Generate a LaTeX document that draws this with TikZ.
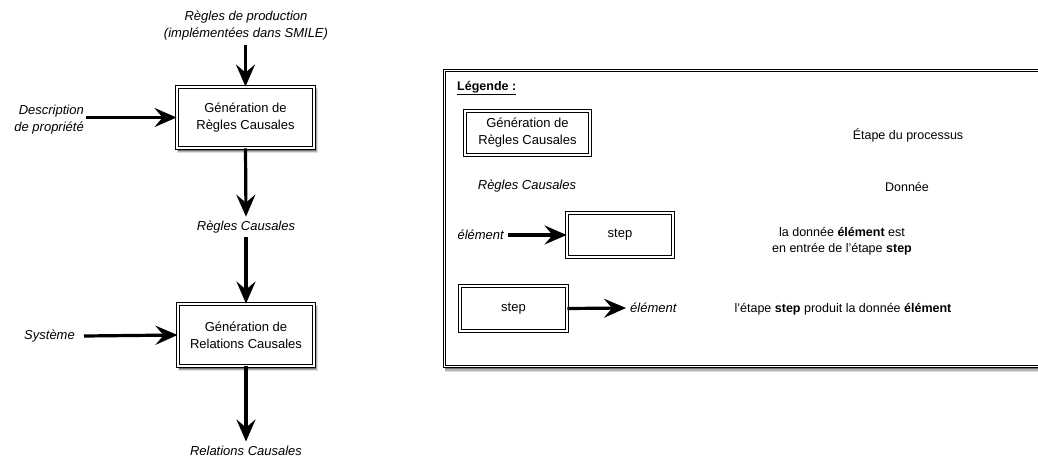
\documentclass[tikz,border=0pt]{standalone}
\usepackage{fontspec}
\setmainfont{Liberation Sans}
\usetikzlibrary{arrows.meta,backgrounds}
\newcommand{\diagsize}{\fontsize{13}{17}\selectfont}
\newcommand{\legsize}{\fontsize{12.5}{16}\selectfont}
\newcommand{\boxshadow}[1]{%
  \begin{scope}[on background layer]
    \fill[black!12] ([shift={(0.5pt,-1.5pt)}]#1.north west) rectangle ([shift={(4pt,-5pt)}]#1.south east);
    \fill[black!30] ([shift={(1pt,-2pt)}]#1.north west) rectangle ([shift={(3pt,-3.8pt)}]#1.south east);
    \fill[black!55] ([shift={(1pt,-2pt)}]#1.north west) rectangle ([shift={(1.8pt,-2.5pt)}]#1.south east);
  \end{scope}}
\tikzset{
  stepbox/.style={draw=black, line width=0.9pt, double=white, double distance=1.6pt, fill=white, align=center, inner sep=0pt},
  datum/.style={font=\diagsize\itshape, align=center, inner sep=4pt},
  plain/.style={font=\legsize, align=center, inner sep=3pt},
  flow/.style={line width=3.2pt, -{Stealth[length=22pt,width=19pt,inset=8pt]}},
}
\begin{document}
\begin{tikzpicture}[x=1pt,y=-1pt,font=\diagsize]
\useasboundingbox (0,0) rectangle (1038,455);
\clip (0,0) rectangle (1038,455);
% main flow
\node[stepbox, minimum width=137pt, minimum height=61pt] (g1) at (245.5,117.5) {Génération de\\Règles Causales};
\node[stepbox, minimum width=136pt, minimum height=62pt] (g2) at (246,335) {Génération de\\Relations Causales};
\boxshadow{g1}
\boxshadow{g2}
\node[datum] (prod) at (246,26) {Règles de production\\(implémentées dans SMILE)};
\node[datum, align=right, anchor=east, inner sep=2pt] (desc) at (86,120) {Description\\de propriété};
\node[datum] (rc) at (246,227) {Règles Causales};
\node[datum, anchor=east, inner sep=2pt] (sys) at (77,336) {Système};
\node[datum] (rel) at (246,450.5) {Relations Causales};
\coordinate (sysS) at ([xshift=7pt]sys.east);
\draw[flow] (prod.south -| g1.north) -- (g1.north);
\draw[flow] (desc.east |- g1.west) -- (g1.west);
\draw[flow] (g1.south) -- (rc.north);
\draw[flow] (rc.south) -- (g2.north);
\draw[flow] (sysS) -- (g2.west);
\draw[flow] (g2.south) -- (rel.north);
% legend
\node[stepbox, minimum width=680pt, minimum height=296pt, anchor=north west] (leg) at (444,70) {};
\boxshadow{leg}
\node[anchor=west, font=\legsize\bfseries, inner sep=0pt] (legt) at (457,88) {\underline{Légende :}};
\node[stepbox, minimum width=125pt, minimum height=44pt] (lstep) at (527.5,133) {Génération de\\Règles Causales};
\node[datum] (ldata) at (527,186) {Règles Causales};
\node[stepbox, minimum width=106pt, minimum height=44pt] (sb1) at (620,235) {step};
\node[datum, anchor=east] (el1) at (508,235) {élément};
\draw[flow] (el1.east) -- (sb1.west);
\node[stepbox, minimum width=107pt, minimum height=45pt] (sb2) at (513.5,308.5) {step};
\node[datum, anchor=west] (el2) at (626,308) {élément};
\draw[flow] (sb2.east) -- (el2.west);
\node[plain] (t1) at (908,135) {Étape du processus};
\node[plain] (t2) at (907,187) {Donnée};
\node[plain] (t3) at (842,241) {la donnée \textbf{élément} est\\en entrée de l'étape \textbf{step}};
\node[plain] (t4) at (843,309) {l'étape \textbf{step} produit la donnée \textbf{élément}};
\end{tikzpicture}
\end{document}
